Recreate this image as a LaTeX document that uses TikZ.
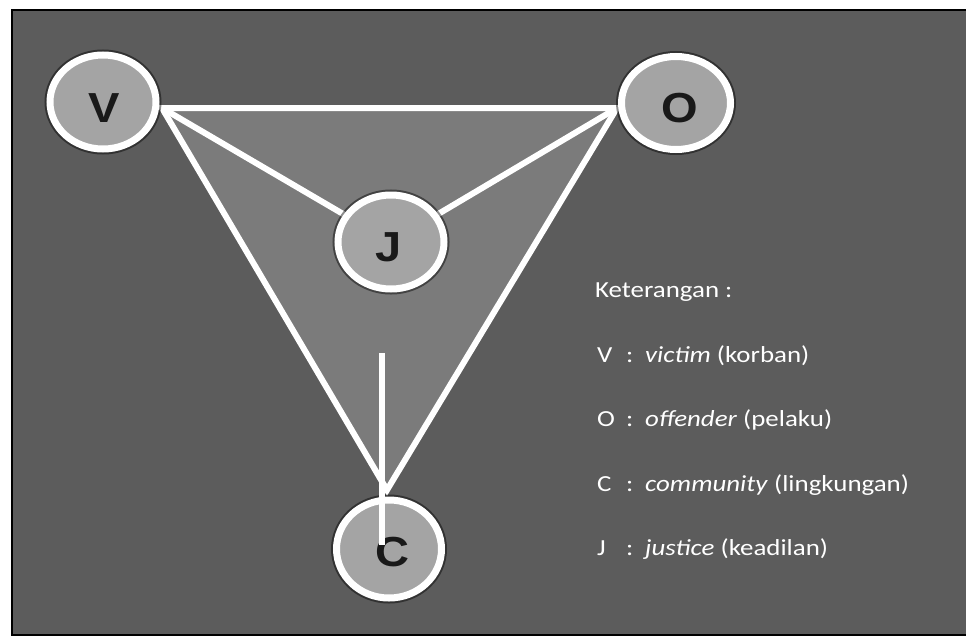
\documentclass[tikz,border=0pt]{standalone}
\usepackage{fontspec}
\setmainfont{Carlito}
\newfontfamily\legendfont{Carlito}[FakeStretch=1.17]
\newfontfamily\letterfont{Liberation Sans}[FakeStretch=1.12]
\usetikzlibrary{shapes.geometric}
\pgfdeclarelayer{back}
\pgfsetlayers{back,main}
\definecolor{bggray}{HTML}{5C5C5C}
\definecolor{trigray}{HTML}{7B7B7B}
\definecolor{circgray}{HTML}{A4A4A4}
\begin{document}
\begin{tikzpicture}[x=1pt,y=-1pt,
  ring/.style={ellipse, draw=white, line width=7, fill=circgray, inner sep=0pt,
    minimum width=106, minimum height=94,
    preaction={draw=black, draw opacity=0.45, line width=11, fill=none}},
  letter/.style={font=\letterfont\bfseries\fontsize{42}{42}\selectfont, text=black!90, inner sep=0pt},
  wline/.style={draw=white, line width=6},
  legend/.style={anchor=base west, text=white, inner sep=0pt, font=\legendfont\fontsize{23}{23}\selectfont}]
\useasboundingbox (0,0) rectangle (966,643);

% circles
\node[ring] (V) at (103,102) {};
\node[ring, minimum width=109, minimum height=93] (O) at (676,103) {};
\node[ring] (J) at (391,242) {};
\node[ring, minimum width=105, minimum height=98] (C) at (389,549) {};

\node[letter] (Vl) at (104,108) {V};
\node[letter] (Ol) at (680,108) {O};
\node[letter] (Jl) at (389,247) {J};
\node[letter] (Cl) at (392,552) {C};

% triangle geometry
\coordinate (tV) at (162,108);
\coordinate (tO) at (617,108);
\coordinate (tC) at (387,490);
\coordinate (jtail) at (382,353);
\coordinate (ctail) at (382,545);

\begin{pgfonlayer}{back}
  \fill[white] (0,0) rectangle (966,643);
  \fill[bggray] (12,10) rectangle (966,635);
  \draw[black, line width=2] (966,10) -- (12,10) -- (12,635) -- (966,635);
  \fill[trigray] (tV) -- (tO) -- (tC) -- cycle;
  \draw[wline, line join=miter] (tV) -- (tO) -- (tC) -- cycle;
  \draw[wline] (tV) -- (J);
  \draw[wline] (J) -- (tO);
\end{pgfonlayer}

\draw[wline] (jtail) -- (ctail);

% legend
\node[legend] (k0) at (595,297) {Keterangan :};
\node[legend] (k1) at (597,362) {\makebox[29pt][l]{V}\makebox[19pt][l]{:}\textit{victim} (korban)};
\node[legend] (k2) at (597,426) {\makebox[29pt][l]{O}\makebox[19pt][l]{:}\textit{offender} (pelaku)};
\node[legend] (k3) at (597,491) {\makebox[29pt][l]{C}\makebox[19pt][l]{:}\textit{community} (lingkungan)};
\node[legend] (k4) at (597,555) {\makebox[29pt][l]{J}\makebox[19pt][l]{:}\textit{justice} (keadilan)};
\end{tikzpicture}
\end{document}
